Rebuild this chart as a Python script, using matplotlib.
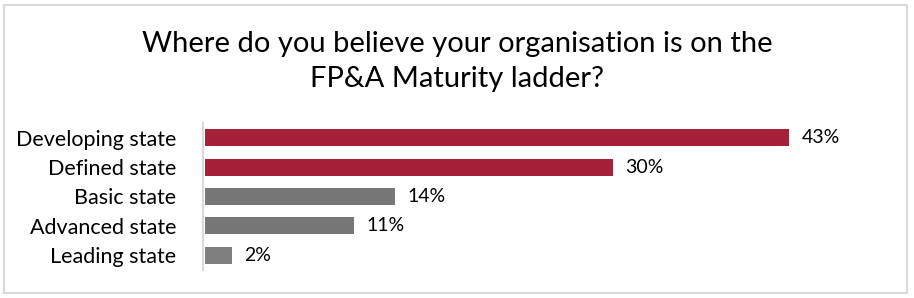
import matplotlib.pyplot as plt
from matplotlib.patches import Rectangle

categories = ["Developing state", "Defined state", "Basic state", "Advanced state", "Leading state"]
values = [43, 30, 14, 11, 2]
labels = ["43%", "30%", "14%", "11%", "2%"]
colors = ["#A5213A", "#A5213A", "#777777", "#777777", "#7F7F7F"]

plt.rcParams['font.family'] = ['Lato', 'DejaVu Sans']

W, H = 914, 298
fig = plt.figure(figsize=(W / 100, H / 100), dpi=100)

# light grey frame round the whole chart
fig.patches.append(Rectangle((4 / W, 5 / H), 903 / W, 288 / H, transform=fig.transFigure,
                             fill=False, edgecolor="#d9d9d9", linewidth=1.5))

fig.text(457 / W, 1 - 52 / H, "Where do you believe your organisation is on the",
         ha="center", va="baseline", fontsize=21, color="#000000")
fig.text(457 / W, 1 - 87 / H, "FP&A Maturity ladder?",
         ha="center", va="baseline", fontsize=21, color="#000000")

# axes: x0 at px 204.5, 1% = 13.6 px
left, top, bottom = 204.5, 123, 270
ax = fig.add_axes([left / W, 1 - bottom / H, 50 * 13.6 / W, (bottom - top) / H])
for s in ["top", "right", "bottom"]:
    ax.spines[s].set_visible(False)
ax.spines["left"].set_color("#d9d9d9")
ax.spines["left"].set_linewidth(1.5)
ax.spines["left"].set_position(("outward", 1.2))

ypos = list(range(len(categories)))
ax.barh(ypos, values, height=0.58, color=colors)
ax.set_xlim(0, 50)
ax.set_ylim(len(categories) - 0.5, -0.5)
ax.set_xticks([])
ax.set_yticks(ypos)
ax.set_yticklabels(categories)
ax.tick_params(axis="y", length=0, pad=19, labelsize=15.5, labelcolor="#000000")

for y, v, t in zip(ypos, values, labels):
    ax.annotate(t, (v, y), xytext=(9, 0), textcoords="offset points",
                va="center", ha="left", fontsize=14, color="#000000")

fig.savefig("out.png", dpi=100)
